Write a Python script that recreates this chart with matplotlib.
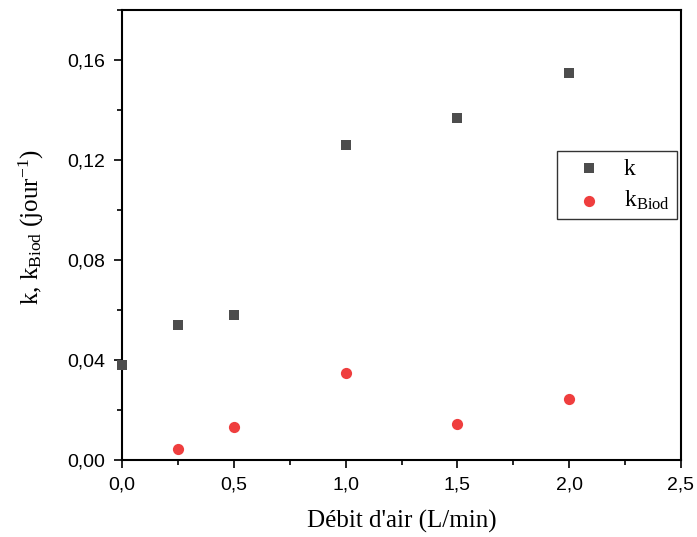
import matplotlib
matplotlib.use("Agg")
import matplotlib.pyplot as plt
from matplotlib.ticker import MultipleLocator, FuncFormatter

x_k = [0.0, 0.25, 0.5, 1.0, 1.5, 2.0]
k_vals = [0.038, 0.054, 0.058, 0.126, 0.137, 0.155]
x_kb = [0.25, 0.5, 1.0, 1.5, 2.0]
kb_vals = [0.0044, 0.0132, 0.035, 0.0144, 0.0244]

plt.rcParams['mathtext.fontset'] = 'custom'
plt.rcParams['mathtext.rm'] = 'Liberation Serif'
plt.rcParams['mathtext.it'] = 'Liberation Serif:italic'

fig = plt.figure(figsize=(6.97, 5.37), dpi=100)
ax = fig.add_axes([122/697, 1-460/537, (681-122)/697, (460-10)/537])

ax.scatter(x_k, k_vals, marker='s', s=50, color='#4d4d4d', label='k', zorder=3, clip_on=False, linewidths=0)
ax.scatter(x_kb, kb_vals, marker='o', s=65, color='#ef3e3e', label=r'k$_{\mathrm{Biod}}$', zorder=3, clip_on=False, linewidths=0)

ax.set_xlim(0, 2.5)
ax.set_ylim(0, 0.18)
ax.xaxis.set_major_locator(MultipleLocator(0.5))
ax.xaxis.set_minor_locator(MultipleLocator(0.25))
ax.yaxis.set_major_locator(MultipleLocator(0.04))
ax.yaxis.set_minor_locator(MultipleLocator(0.02))
ax.xaxis.set_major_formatter(FuncFormatter(lambda v, p: f"{v:.1f}".replace('.', ',')))
ax.yaxis.set_major_formatter(FuncFormatter(lambda v, p: f"{v:.2f}".replace('.', ',')))

ax.tick_params(which='both', direction='out', top=False, right=False, width=1.2, pad=6)
ax.tick_params(which='major', length=6)
ax.tick_params(which='minor', length=3.5)
for lab in ax.get_xticklabels() + ax.get_yticklabels():
    lab.set_fontfamily('Liberation Sans')
    lab.set_fontsize(14)
for sp in ax.spines.values():
    sp.set_linewidth(1.5)

ax.set_xlabel("Débit d'air (L/min)", fontfamily='Liberation Serif', fontsize=18)
ax.set_ylabel(r'k, k$_{\mathrm{Biod}}$ (jour$^{\mathrm{-1}}$)', fontfamily='Liberation Serif', fontsize=18)
ax.xaxis.set_label_coords(0.5, -0.112)
ax.yaxis.set_label_coords(-0.136, 0.517)

leg = ax.legend(loc='upper left', bbox_to_anchor=(557/697, 1-151/537), bbox_transform=fig.transFigure,
                prop={'family': 'Liberation Serif', 'size': 17}, frameon=True, fancybox=False,
                edgecolor='black', borderpad=0.3, handletextpad=0.42, labelspacing=0.4, borderaxespad=0,
                handlelength=2.12)
leg.get_frame().set_linewidth(1.0)

fig.savefig('out.png', dpi=100)
